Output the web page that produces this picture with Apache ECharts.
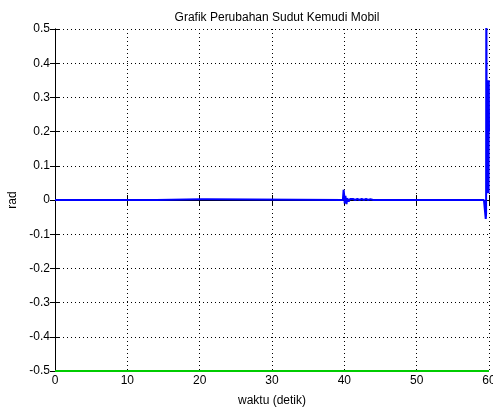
<!DOCTYPE html>
<html>
<head>
<meta charset="utf-8">
<script src="https://cdn.jsdelivr.net/npm/echarts@6/dist/echarts.min.js"></script>
<style>
  html, body { margin: 0; padding: 0; background: #fff; }
  #chart { width: 493px; height: 410px; }
</style>
</head>
<body>
<div id="chart"></div>
<script>
// sudut kemudi (rad) terhadap waktu (detik)
const waktu = [
  0, 0.1, 0.3, 0.5, 0.7, 0.9, 1.1, 1.3, 1.5, 1.7, 1.9, 2.1, 2.3, 2.5, 2.7, 2.9, 3.1,
  14.0, 14.05, 20.2, 20.4, 20.6, 20.8, 21.0, 21.2,
  39.8, 39.9, 40.0, 40.05, 40.15, 40.3, 40.4, 40.6, 40.8, 41.0,
  41.2, 41.5, 41.8, 42.1, 42.4, 42.7, 43.0, 43.3, 43.6, 44.0,
  59.3, 59.45, 59.55, 59.6, 59.63, 59.66, 59.7, 59.73, 59.76, 59.79,
  59.82, 59.85, 59.88, 59.91, 59.94, 59.97, 60.0
];
const sudut = [
  0, 0.004, 0, 0.003, 0, 0.003, 0, 0.003, 0, 0.003, 0, 0.003, 0, 0.003, 0, 0.002, 0,
  0, 0.002, 0.002, 0, 0.002, 0, 0.002, 0,
  0, 0.03, 0.01, -0.01, 0.012, -0.012, 0.005, -0.004, 0.003, 0,
  0.003, 0, 0.003, 0, 0.003, 0, 0.003, 0, 0.002, 0,
  0, -0.003, -0.055, -0.04, 0.7, 0.35, 0.02, 0.35, 0.02, 0.35,
  0.02, 0.35, 0.02, 0.35, 0.02, 0.35, 0.2
];
const referensi = [-0.5, -0.5];
const waktuRef = [0, 60];

const xTicks = { min: 0, max: 60, interval: 10 };
const yTicks = { min: -0.5, max: 0.5, interval: 0.1 };

const font = 'Liberation Sans, Arial, sans-serif';
const chart = echarts.init(document.getElementById('chart'));

const dotted = { show: true, lineStyle: { color: '#000', type: [1, 3], width: 1 } };
const axisLine = { show: true, lineStyle: { color: '#000', width: 1 } };
const tick = { show: true, inside: true, length: 5, lineStyle: { color: '#000' } };

chart.setOption({
  animation: false,
  backgroundColor: '#fff',
  title: {
    text: 'Grafik Perubahan Sudut Kemudi Mobil',
    left: 272, top: 7, textAlign: 'center',
    textStyle: { fontFamily: font, fontSize: 12, fontWeight: 'normal', color: '#000' }
  },
  grid: { left: 55, right: 4, top: 29, bottom: 39, outerBoundsMode: 'none', containLabel: false },
  xAxis: [{
    type: 'value', min: xTicks.min, max: xTicks.max, interval: xTicks.interval,
    name: 'waktu (detik)', nameLocation: 'middle', nameGap: 24,
    nameTextStyle: { fontFamily: font, fontSize: 12, color: '#000' },
    axisLine: axisLine, axisTick: tick, splitLine: dotted,
    axisLabel: { fontFamily: font, fontSize: 12, color: '#000', margin: 4 }
  }, {
    type: 'value', position: 'top', min: xTicks.min, max: xTicks.max, interval: xTicks.interval,
    axisLine: axisLine, axisTick: tick, splitLine: { show: false }, axisLabel: { show: false }
  }],
  yAxis: [{
    type: 'value', min: yTicks.min, max: yTicks.max, interval: yTicks.interval,
    name: 'rad', nameLocation: 'middle', nameGap: 36, nameRotate: 90,
    nameTextStyle: { fontFamily: font, fontSize: 12, color: '#000' },
    axisLine: axisLine, axisTick: tick, splitLine: dotted,
    axisLabel: { fontFamily: font, fontSize: 12, color: '#000', margin: 5 }
  }, {
    type: 'value', position: 'right', min: yTicks.min, max: yTicks.max, interval: yTicks.interval,
    axisLine: axisLine, axisTick: tick, splitLine: { show: false }, axisLabel: { show: false }
  }],
  series: [{
    type: 'line', showSymbol: false, clip: true, z: 5,
    data: waktu.map((t, i) => [t, sudut[i]]),
    lineStyle: { color: '#0000ff', width: 2 }
  }, {
    type: 'line', showSymbol: false, clip: false, z: 6,
    data: waktuRef.map((t, i) => [t, referensi[i]]),
    lineStyle: { color: '#00cc00', width: 2 }
  }]
});
</script>
</body>
</html>
